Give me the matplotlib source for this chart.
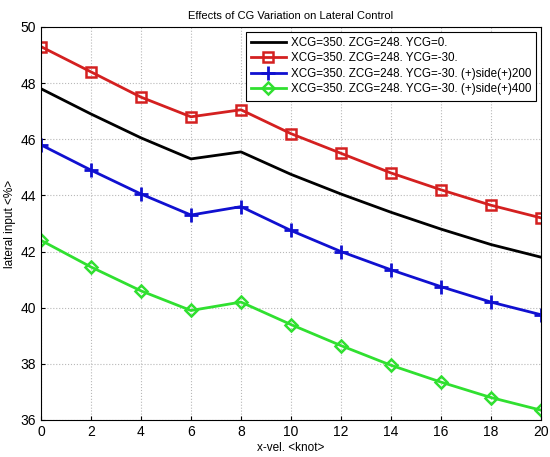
import matplotlib
matplotlib.use("Agg")
import matplotlib.pyplot as plt

plt.rcParams['font.family'] = ['Liberation Sans', 'DejaVu Sans']

x = [0, 2, 4, 6, 8, 10, 12, 14, 16, 18, 20]
ycg0 = [47.8, 46.9, 46.05, 45.3, 45.55, 44.75, 44.05, 43.4, 42.8, 42.25, 41.8]
ycg30 = [49.3, 48.4, 47.5, 46.8, 47.05, 46.2, 45.5, 44.8, 44.2, 43.65, 43.2]
side200 = [45.8, 44.9, 44.05, 43.3, 43.6, 42.75, 42.0, 41.35, 40.75, 40.2, 39.75]
side400 = [42.4, 41.45, 40.6, 39.9, 40.2, 39.4, 38.65, 37.95, 37.35, 36.8, 36.35]
labels = ["XCG=350. ZCG=248. YCG=0.",
          "XCG=350. ZCG=248. YCG=-30.",
          "XCG=350. ZCG=248. YCG=-30. (+)side(+)200",
          "XCG=350. ZCG=248. YCG=-30. (+)side(+)400"]
xticks = list(range(0, 21, 2))
yticks = list(range(36, 51, 2))

fig = plt.figure(figsize=(5.5, 4.57), dpi=100)
ax = fig.add_axes([0.0745, 0.081, 0.909, 0.86])

ax.plot(x, ycg0, color='black', lw=2, label=labels[0])
ax.plot(x, ycg30, color='#d42020', lw=2, marker='s', ms=6.5, mfc='none', mew=1.8, label=labels[1])
ax.plot(x, side200, color='#1010d0', lw=2, marker='+', ms=10, mew=2, label=labels[2])
ax.plot(x, side400, color='#30e030', lw=2, marker='D', ms=6, mfc='none', mew=1.8, label=labels[3])

ax.set_xlim(0, 20)
ax.set_ylim(36, 50)
ax.set_xticks(xticks)
ax.set_yticks(yticks)
ax.tick_params(labelsize=10, direction='in', length=3)
ax.grid(True, linestyle=':', color='#b8b8b8', lw=0.8)
ax.set_xlabel('x-vel. <knot>', fontsize=8.5, labelpad=2)
ax.set_ylabel('lateral input <%>', fontsize=8.5, labelpad=3)
ax.set_title('Effects of CG Variation on Lateral Control', fontsize=8, pad=6)

leg = ax.legend(loc='upper right', fontsize=8.4, fancybox=False, edgecolor='black',
                framealpha=1, handlelength=3.0, borderpad=0.45, labelspacing=0.3,
                handletextpad=0.4, borderaxespad=0.4)
leg.get_frame().set_linewidth(0.8)

fig.savefig('out.png', dpi=100)
